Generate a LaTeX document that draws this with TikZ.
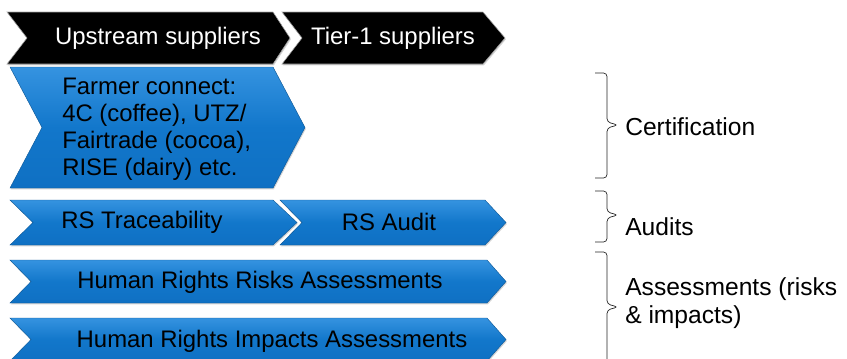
\documentclass[tikz,border=0pt]{standalone}
\usepackage{fontspec}
\setmainfont{Liberation Sans}
\usepackage{tikz}
\usetikzlibrary{positioning, calc, shadows}
\definecolor{chevblue}{HTML}{1277CB}
\definecolor{chevbluetop}{HTML}{3593E0}
\definecolor{chevbluebot}{HTML}{0F70C3}
\tikzset{
    bluechev/.style={top color=chevbluetop, bottom color=chevbluebot, middle color=chevblue, draw=chevblue!75!black, line width=0.3pt, drop shadow={opacity=0.35, shadow xshift=0.6pt, shadow yshift=-1pt}},
    blackchev/.style={fill=black, draw=gray!70, line width=0.4pt, drop shadow={opacity=0.35, shadow xshift=0.6pt, shadow yshift=-1pt}},
    chevtext/.style={inner sep=0pt, font=\fontsize{17}{19.2}\selectfont},
    sidelabel/.style={inner sep=0pt, anchor=west, align=left, font=\fontsize{17.5}{19.6}\selectfont},
    groupbrace/.style={rounded corners=2.5pt, line width=0.5pt, color=black!85}
}
% chevron outline: style, left, top, body right, tip, bottom, notch
\newcommand{\chevron}[7]{%
    \path[#1] (#2,#3) -- (#4,#3) -- (#5,{(#3+#6)/2}) -- (#4,#6) -- (#2,#6) -- (#7,{(#3+#6)/2}) -- cycle;}
% brace on the right: top, tip, bottom
\newcommand{\sidebrace}[3]{%
    \draw[groupbrace] (595,#1) -- (607,#1) -- (607,{#2-3}) -- (618,#2) -- (607,{#2+3}) -- (607,#3) -- (595,#3);}

\begin{document}
\begin{tikzpicture}[x=0.025cm, y=-0.025cm]
    \useasboundingbox (0,0) rectangle (847,358);
    \clip (0,0) rectangle (847,358);

    % supplier tiers
    \chevron{blackchev}{7}{12}{273}{290}{64}{27}
    \chevron{blackchev}{282}{12}{483}{505}{64}{302}
    \node[chevtext, text=white] (upstream) at (158,38) {Upstream suppliers};
    \node[chevtext, text=white] (tier1) at (393,38) {Tier-1 suppliers};

    % programmes
    \chevron{bluechev}{10}{67}{273}{305}{188}{42}
    \node[chevtext, anchor=west, align=left] (farmer) at (62,129) {Farmer connect:\\4C (coffee), UTZ/\\Fairtrade (cocoa),\\RISE (dairy) etc.};

    \chevron{bluechev}{10}{200}{273}{297}{245}{33}
    \chevron{bluechev}{280}{200}{485}{506}{245}{302}
    \node[chevtext] (trace) at (142,222) {RS Traceability};
    \node[chevtext] (audit) at (389,222) {RS Audit};

    \chevron{bluechev}{10}{260}{487}{506}{303}{31}
    \node[chevtext] (risks) at (260,282) {Human Rights Risks Assessments};

    \chevron{bluechev}{10}{318}{487}{506}{361}{31}
    \node[chevtext] (impacts) at (272,341) {Human Rights Impacts Assessments};

    % groups
    \sidebrace{73}{125}{178}
    \sidebrace{191}{215}{242}
    \sidebrace{252}{307}{366}

    \node[sidelabel] (certif) at (625,127) {Certification};
    \node[sidelabel] (audits) at (625,227) {Audits};
    \node[sidelabel] (assess) at (625,303) {Assessments (risks\\\& impacts)};
\end{tikzpicture}
\end{document}
